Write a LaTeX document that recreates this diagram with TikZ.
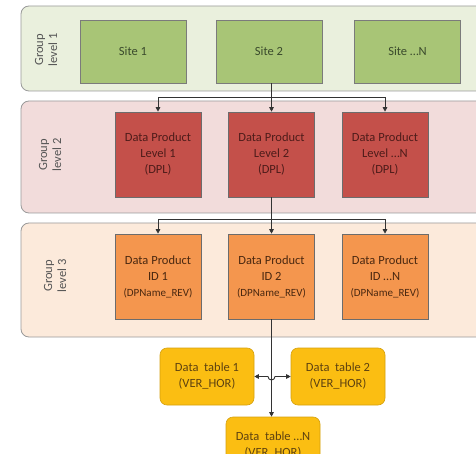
\documentclass[tikz,border=0pt]{standalone}
\usepackage{fontspec}
\setmainfont{Carlito}
\usetikzlibrary{arrows.meta,calc}
\definecolor{gOneFill}{HTML}{EAF0DD}
\definecolor{gTwoFill}{HTML}{F2DCDB}
\definecolor{gThreeFill}{HTML}{FCEADB}
\definecolor{grpBorder}{HTML}{9A9A9A}
\definecolor{siteFill}{HTML}{A8C576}
\definecolor{siteText}{HTML}{3A4A2C}
\definecolor{dplFill}{HTML}{C4504A}
\definecolor{dplText}{HTML}{4E1C1A}
\definecolor{dpiFill}{HTML}{F4964E}
\definecolor{dpiText}{HTML}{4A2810}
\definecolor{tblFill}{HTML}{FBBE12}
\definecolor{tblText}{HTML}{5E4210}
\definecolor{lblText}{HTML}{555555}
\newcommand{\revsize}{\fontsize{11}{16}\selectfont}
\tikzset{
  x=1pt,y=-1pt,
  grp/.style={draw=grpBorder,line width=0.8pt,rounded corners=8pt},
  grplabel/.style={rotate=90,align=center,text=lblText,font=\fontsize{12.5}{14}\selectfont},
  sitebox/.style={draw=grpBorder!80!black,line width=0.6pt,fill=siteFill,text=siteText,
    minimum width=106pt,minimum height=63pt,inner sep=0pt,font=\fontsize{12.5}{15}\selectfont},
  dplbox/.style={draw=grpBorder!70!black,line width=0.6pt,fill=dplFill,text=dplText,
    minimum width=86pt,minimum height=85pt,inner sep=0pt,align=center,font=\fontsize{12.5}{16}\selectfont},
  dpibox/.style={draw=grpBorder!70!black,line width=0.6pt,fill=dpiFill,text=dpiText,
    minimum width=86pt,minimum height=85pt,inner sep=0pt,align=center,font=\fontsize{12.5}{16}\selectfont},
  tblbox/.style={draw=tblFill!85!black,line width=0.6pt,fill=tblFill,text=tblText,rounded corners=7pt,
    minimum width=94pt,minimum height=57pt,inner sep=0pt,align=center,font=\fontsize{12.5}{16}\selectfont},
  conn/.style={draw=black!80,line width=0.9pt,-{Triangle[length=4.5pt,width=4.5pt]}}
}
\begin{document}
\begin{tikzpicture}
\useasboundingbox (0,0) rectangle (476,454);
\clip (0,0) rectangle (476,454);
\fill[white] (0,0) rectangle (476,454);
% groups
\draw[grp,fill=gOneFill] (21,6) rectangle (490,91);
\draw[grp,fill=gTwoFill] (21,101) rectangle (490,213);
\draw[grp,fill=gThreeFill] (21,223) rectangle (490,337);
\node[grplabel] (gl1) at (46,50) {Group\\level 1};
\node[grplabel] (gl2) at (50,155) {Group\\level 2};
\node[grplabel] (gl3) at (55,276) {Group\\level 3};
% level 1
\node[sitebox] (s1) at (133,51.5) {Site 1};
\node[sitebox] (s2) at (269,51.5) {Site 2};
\node[sitebox] (sn) at (407.5,51.5) {Site \dots N};
% level 2
\node[dplbox] (d1) at (158,154.5) {Data Product\\Level 1\\(DPL)};
\node[dplbox] (d2) at (271.5,154.5) {Data Product\\Level 2\\(DPL)};
\node[dplbox] (dn) at (385,154.5) {Data Product\\Level \dots N\\(DPL)};
% level 3
\node[dpibox] (p1) at (158,276.5) {Data Product\\ID 1\\{\revsize(DPName\_REV)}};
\node[dpibox] (p2) at (271.5,276.5) {Data Product\\ID 2\\{\revsize(DPName\_REV)}};
\node[dpibox] (pn) at (385,276.5) {Data Product\\ID \dots N\\{\revsize(DPName\_REV)}};
% tables
\node[tblbox] (t1) at (207,376.5) {Data\ \ table 1\\(VER\_HOR)};
\node[tblbox] (t2) at (338,376.5) {Data\ \ table 2\\(VER\_HOR)};
\node[tblbox] (tn) at (273,445.5) {Data\ \ table \dots N\\(VER\_HOR)};
% connectors level1 -> level2
\coordinate (b1) at (271.5,97);
\draw[conn] (d2.north |- s2.south) -- (d2.north);
\draw[conn] (b1) -| (d1.north);
\draw[conn] (b1) -| (dn.north);
% level2 -> level3
\coordinate (b2) at (271.5,219);
\draw[conn] (d2.south) -- (p2.north);
\draw[conn] (b2) -| (p1.north);
\draw[conn] (b2) -| (pn.north);
% level3 -> tables
\coordinate (j) at (p2.south |- t1.east);
\draw[conn] (p2.south) -- (p2.south |- tn.north);
\draw[conn,{Triangle[length=4.5pt,width=4.5pt]}-{Triangle[length=4.5pt,width=4.5pt]}]
  (t1.east) -- ($(j)+(-3.5,0)$) arc[start angle=180,end angle=0,radius=3.5] -- (t2.west);
\end{tikzpicture}
\end{document}
